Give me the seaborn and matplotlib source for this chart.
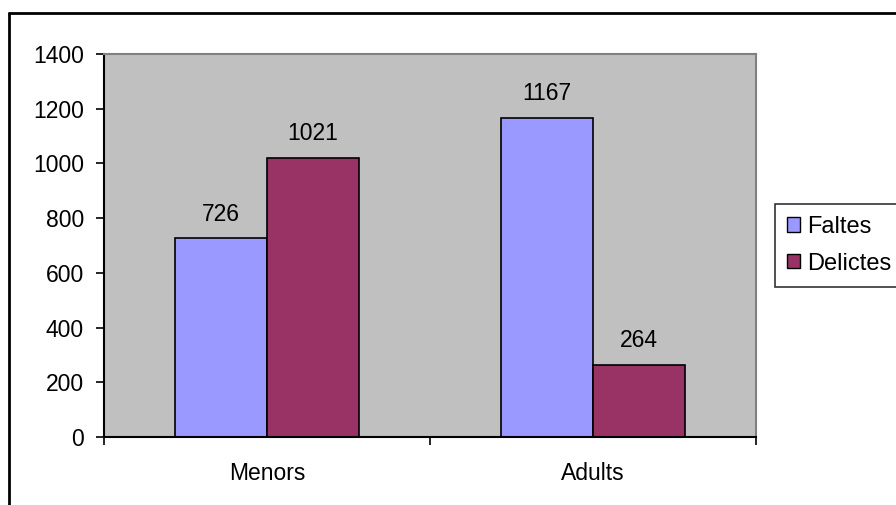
import pandas as pd
import matplotlib.pyplot as plt
import seaborn as sns
from matplotlib.lines import Line2D

groups = ["Menors", "Adults"]
faltes = [726, 1167]
delictes = [1021, 264]
series = ["Faltes", "Delictes"]
colors = ["#9999FF", "#993366"]

df = pd.DataFrame({
    "grup": groups * 2,
    "tipus": [series[0]] * 2 + [series[1]] * 2,
    "valor": faltes + delictes,
})

sns.set_style("white")
plt.rcParams["font.family"] = ["Liberation Sans", "DejaVu Sans"]
plt.rcParams["text.color"] = "black"
plt.rcParams["xtick.color"] = "black"
plt.rcParams["ytick.color"] = "black"

fs = 16.5

fig = plt.figure(figsize=(8.96, 5.05), dpi=100)
ax = fig.add_axes([0.1161, 0.1347, 0.7277, 0.7583])
sns.barplot(data=df, x="grup", y="valor", hue="tipus", palette=colors,
            width=0.566, edgecolor="black", linewidth=1.2, ax=ax, saturation=1)

ax.set_facecolor("#C0C0C0")
ax.set_xlim(-0.5, 1.5)
ax.set_ylim(0, 1400)
ax.set_yticks(range(0, 1401, 200))
ax.set_xlabel("")
ax.set_ylabel("")

# category ticks sit between groups, labels at centres
ax.set_xticks([0, 1])
ax.set_xticklabels(groups, fontsize=fs)
ax.tick_params(axis="x", which="major", bottom=True, length=0, pad=18)
ax.set_xticks([-0.5, 0.5, 1.5], minor=True)
ax.tick_params(axis="x", which="minor", bottom=True, length=6, width=1.2, color="black", direction="out")
ax.tick_params(axis="y", left=True, length=5.5, width=1.2, color="black", direction="out", labelsize=fs, pad=9)

for s in ["left", "bottom"]:
    ax.spines[s].set_color("black")
    ax.spines[s].set_linewidth(1.5)
for s in ["top", "right"]:
    ax.spines[s].set_visible(True)
    ax.spines[s].set_color("#808080")
    ax.spines[s].set_linewidth(1.5)

for c in ax.containers:
    ax.bar_label(c, padding=9, fontsize=fs, color="black")

ax.legend_.remove()
handles = [plt.Rectangle((0, 0), 1, 1, facecolor=col, edgecolor="black", linewidth=1) for col in colors]
leg = fig.legend(handles, series, loc="upper left", bbox_to_anchor=(0.865, 0.596),
                 frameon=True, fancybox=False, fontsize=17, handlelength=0.55, handleheight=0.55,
                 handletextpad=0.3, borderpad=0.5, labelspacing=0.63, borderaxespad=0)
leg.get_frame().set_edgecolor("black")
leg.get_frame().set_linewidth(1.2)

# outer chart border (left and top visible)
fig.add_artist(Line2D([0.0105, 0.0105], [0, 0.974], color="black", linewidth=2, transform=fig.transFigure))
fig.add_artist(Line2D([0.0105, 1], [0.974, 0.974], color="black", linewidth=2, transform=fig.transFigure))

fig.savefig("out.png", dpi=100)
